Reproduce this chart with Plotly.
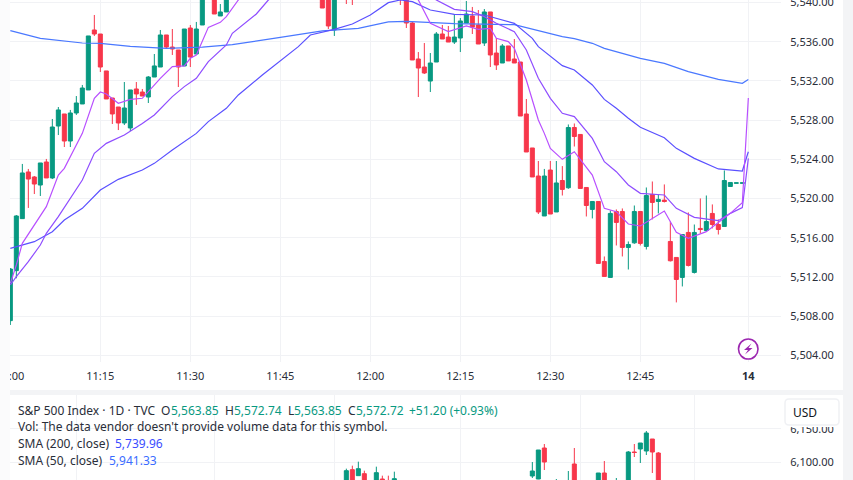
import plotly.graph_objects as go

W, H = 853, 480
GREEN = '#089981'
RED = '#F7374B'
GRID = '#f1f2f5'
PAGE_BG = '#f3f4f6'
TEXT = '#2a2e39'
BLUE_VAL = '#3a4cff'

# intraday candles, minutes after 11:00 (the ones above the top edge are guesses)
minutes = list(range(37)) + [52, 53, 54, 56, 57] + list(range(65, 123))
opens = [
    5507.54, 5512.64, 5517.95, 5522.71, 5522.20, 5521.38, 5523.73, 5522.10, 5527.40, 5528.63,
    5525.87, 5528.73, 5529.65, 5531.08, 5537.20, 5536.79, 5533.02, 5530.26, 5529.34, 5527.71,
    5527.20, 5531.18, 5530.87, 5530.36, 5532.40, 5533.42, 5536.69, 5535.46, 5535.16, 5533.53,
    5537.40, 5534.75, 5537.71, 5541.0, 5541.6, 5538.63, 5539.04,
    5541.0, 5540.6, 5537.20, 5541.5, 5541.2,
    5542.0, 5541.0, 5537.91, 5534.24, 5533.42, 5531.99, 5533.93, 5536.79, 5536.48, 5535.97,
    5536.38, 5537.91, 5538.63, 5537.71, 5535.87, 5539.04, 5534.85, 5533.83, 5535.57, 5534.24,
    5533.93, 5528.63, 5525.16, 5522.30, 5518.22, 5522.91, 5518.63, 5521.84, 5521.10, 5527.25,
    5526.54, 5521.13, 5518.89, 5519.70, 5513.58, 5511.95, 5518.68, 5518.68, 5515.01, 5515.48,
    5518.68, 5515.11, 5520.42, 5519.70, 5519.84, 5515.62, 5513.99, 5511.95, 5516.54, 5512.46,
    5516.95, 5516.74, 5518.48, 5517.35, 5517.15, 5521.23, 5521.56, 5521.56,
]
closes = [
    5512.81, 5518.22, 5522.61, 5521.99, 5521.48, 5523.63, 5522.10, 5527.30, 5529.04, 5525.87,
    5528.73, 5529.75, 5531.28, 5536.59, 5536.79, 5533.42, 5530.16, 5528.63, 5527.71, 5529.24,
    5531.08, 5530.67, 5530.46, 5532.40, 5533.53, 5536.69, 5535.46, 5535.26, 5533.42, 5537.30,
    5534.44, 5537.30, 5541.2, 5541.5, 5538.83, 5539.04, 5541.0,
    5539.44, 5537.61, 5541.2, 5540.8, 5540.7,
    5541.0, 5537.91, 5534.14, 5533.32, 5532.81, 5533.83, 5536.79, 5536.28, 5535.97, 5536.48,
    5538.12, 5538.83, 5537.50, 5535.77, 5539.04, 5534.65, 5533.63, 5535.57, 5534.04, 5533.83,
    5528.42, 5524.75, 5522.20, 5518.63, 5522.30, 5518.42, 5521.59, 5520.93, 5527.25, 5526.33,
    5521.03, 5519.29, 5519.70, 5513.38, 5512.05, 5518.48, 5517.56, 5515.01, 5515.31, 5518.68,
    5515.42, 5520.31, 5519.60, 5519.91, 5519.70, 5513.65, 5511.74, 5516.33, 5513.17, 5516.54,
    5516.84, 5517.66, 5517.35, 5516.84, 5521.84, 5521.64, 5521.60, 5521.60,
]
highs = [
    5512.91, 5518.32, 5523.53, 5523.02, 5522.30, 5523.63, 5524.04, 5528.12, 5529.34, 5528.63,
    5529.04, 5530.46, 5531.59, 5536.59, 5538.73, 5536.79, 5533.02, 5530.26, 5529.34, 5531.89,
    5531.08, 5531.89, 5531.18, 5532.50, 5534.75, 5537.20, 5536.69, 5537.30, 5535.16, 5537.30,
    5537.71, 5538.02, 5541.5, 5542.0, 5541.8, 5539.85, 5541.2,
    5541.3, 5541.0, 5541.5, 5541.8, 5541.5,
    5542.3, 5541.2, 5538.02, 5534.95, 5535.87, 5534.85, 5536.99, 5537.71, 5537.61, 5538.83,
    5538.42, 5540.16, 5539.55, 5539.24, 5539.34, 5539.04, 5536.38, 5535.77, 5535.57, 5536.28,
    5533.93, 5530.16, 5525.16, 5523.83, 5523.02, 5523.83, 5523.83, 5523.31, 5527.56, 5527.66,
    5526.54, 5521.13, 5519.70, 5519.70, 5514.09, 5518.78, 5518.89, 5518.99, 5515.62, 5519.29,
    5518.68, 5521.13, 5521.74, 5520.42, 5521.44, 5517.66, 5513.99, 5516.33, 5518.58, 5517.35,
    5520.01, 5520.31, 5519.40, 5517.87, 5522.87, 5521.64, 5521.60, 5521.60,
]
lows = [
    5507.10, 5511.86, 5517.95, 5519.04, 5520.46, 5520.26, 5522.10, 5521.99, 5526.48, 5525.26,
    5525.26, 5528.53, 5529.65, 5531.08, 5536.59, 5532.91, 5530.16, 5527.61, 5526.99, 5527.50,
    5526.89, 5529.55, 5530.46, 5529.75, 5532.40, 5533.42, 5535.26, 5534.65, 5531.38, 5533.53,
    5533.42, 5534.75, 5537.71, 5540.6, 5538.83, 5538.63, 5539.04,
    5539.44, 5537.30, 5536.59, 5539.85, 5539.75,
    5539.75, 5537.40, 5534.14, 5530.36, 5532.71, 5530.87, 5533.93, 5536.28, 5535.97, 5535.77,
    5534.95, 5537.91, 5536.79, 5535.77, 5535.57, 5533.42, 5533.12, 5533.83, 5534.04, 5533.83,
    5528.42, 5524.75, 5522.20, 5518.42, 5518.22, 5518.42, 5518.63, 5520.31, 5520.99, 5525.31,
    5521.03, 5518.17, 5517.97, 5513.38, 5512.05, 5511.95, 5515.21, 5514.09, 5512.76, 5515.38,
    5515.21, 5514.80, 5517.87, 5518.48, 5519.60, 5513.58, 5509.40, 5511.03, 5513.07, 5512.35,
    5516.44, 5516.64, 5516.95, 5516.33, 5517.15, 5521.23, 5521.56, 5521.56,
]

# moving averages, read at their bends
long_min = [0, 5, 12, 15, 20, 26, 32, 37, 45, 52, 58, 63, 66, 74, 84, 88, 92, 94, 97, 99, 105, 109, 113, 118, 122, 123]
long_val = [5537.13, 5536.35, 5535.87, 5535.84, 5535.53, 5535.33, 5535.46, 5535.70, 5536.45, 5537.10,
            5537.37, 5538.02, 5538.08, 5537.85, 5537.74, 5537.10, 5536.52, 5536.31, 5535.84, 5535.33,
            5534.31, 5533.80, 5532.95, 5532.16, 5531.76, 5532.16]
slow_min = [0, 4, 7, 9, 12, 15, 18, 22, 24, 27, 31, 33, 36, 38, 42, 45, 48, 50, 54, 57, 60, 63, 65, 67, 70,
            74, 79, 84, 87, 88, 90, 92, 94, 97, 99, 101, 103, 105, 109, 111, 114, 118, 122, 123]
slow_val = [5514.92, 5515.60, 5516.62, 5517.81, 5519.00, 5520.87, 5521.96, 5522.91, 5523.59, 5524.95,
            5526.65, 5527.85, 5529.21, 5530.57, 5532.61, 5534.07, 5535.50, 5536.69, 5537.27, 5537.81,
            5538.73, 5539.99, 5540.26, 5540.09, 5539.24, 5538.80, 5538.73, 5537.88, 5536.35, 5535.50,
            5534.48, 5533.56, 5533.12, 5531.59, 5530.12, 5529.21, 5528.19, 5527.27, 5526.21, 5525.12,
            5524.10, 5523.02, 5522.81, 5524.78]
mid_min = [0, 1, 3, 5, 6, 8, 12, 14, 16, 19, 22, 24, 27, 29, 31, 33, 36, 37, 41, 43, 50, 60, 66, 71, 74, 77,
           79, 81, 84, 86, 88, 90, 92, 94, 97, 99, 101, 103, 105, 109, 111, 114, 118, 120, 122, 123]
mid_val = [5511.18, 5512.03, 5513.56, 5515.26, 5516.45, 5518.15, 5521.89, 5524.61, 5525.63, 5526.48,
           5527.67, 5528.53, 5530.40, 5531.42, 5532.27, 5533.97, 5535.67, 5536.86, 5538.83, 5540.26,
           5543.0, 5544.0, 5542.5, 5540.26, 5539.31, 5539.07, 5538.56, 5537.88, 5537.03, 5535.16,
           5532.27, 5530.23, 5528.70, 5528.36, 5526.14, 5523.76, 5522.74, 5521.38, 5520.53, 5520.36,
           5519.00, 5518.08, 5517.74, 5518.49, 5519.07, 5524.10]
fast_min = [0, 1, 2, 5, 6, 8, 9, 12, 14, 15, 16, 18, 20, 22, 25, 27, 29, 30, 31, 33, 35, 36, 38, 45, 55, 63,
            68, 70, 73, 76, 78, 80, 81, 83, 84, 86, 88, 89, 90, 92, 94, 97, 99, 101, 103, 105, 109, 111,
            113, 116, 120, 122, 123]
fast_val = [5511.35, 5513.22, 5515.43, 5518.32, 5519.17, 5522.40, 5523.08, 5526.65, 5530.23, 5530.87,
            5530.67, 5529.72, 5530.12, 5530.23, 5532.27, 5533.46, 5533.53, 5534.31, 5534.65, 5537.47,
            5537.98, 5538.56, 5540.26, 5544.5, 5546.0, 5543.5, 5540.26, 5537.88, 5537.03, 5537.61,
            5537.27, 5537.37, 5536.35, 5536.01, 5535.33, 5532.10, 5528.02, 5526.65, 5525.12, 5524.00,
            5524.78, 5522.40, 5519.00, 5518.66, 5517.40, 5517.20, 5518.73, 5516.55, 5515.94, 5516.62,
            5518.49, 5519.58, 5530.26]

# daily candles in the lower pane, values below the page edge are guesses
day_x = [56, 57, 58, 59, 61, 62, 63, 64, 87, 88, 89, 91, 93, 94, 98, 99, 101, 103, 104, 105, 106, 107, 108]
day_open = [6060, 6088.38, 6079.29, 6082.32, 6060, 6074.24, 6072, 6060, 6078.79, 6074.24, 6121.21, 6060,
            6060, 6096.97, 6060, 6083.33, 6060, 6060, 6115.15, 6119.70, 6116.67, 6134.85, 6113.64]
day_close = [6086.87, 6060, 6089.90, 6060, 6083.84, 6060, 6060, 6074.75, 6086.36, 6118.18, 6100, 6068,
             6070, 6060, 6083.33, 6062, 6070, 6115.15, 6114.4, 6128.79, 6143.94, 6115.15, 6060]
day_high = [6089.90, 6094.44, 6100.5, 6086.87, 6092.93, 6079.29, 6079.29, 6085.35, 6100, 6118.18, 6127.27,
            6074.24, 6086.36, 6121.21, 6083.33, 6101.52, 6075.76, 6116.67, 6127.27, 6128.79, 6146.97,
            6134.85, 6115.15]
day_low = [6055, 6055, 6079.29, 6055, 6055, 6055, 6055, 6055, 6075.76, 6074, 6087.88, 6058, 6055, 6050,
           6055, 6055, 6055, 6055, 6107.58, 6098.48, 6110.61, 6083.33, 6050]

time_ticks = [0, 15, 30, 45, 60, 75, 90, 105, 123]
time_labels = ['11:00', '11:15', '11:30', '11:45', '12:00', '12:15', '12:30', '12:45', '<b>14</b>']
price_ticks = [5504, 5508, 5512, 5516, 5520, 5524, 5528, 5532, 5536, 5540]
day_grid = [11, 34, 54, 75, 95, 114]
day_price_ticks = [6100, 6150]


def px(x):
    return x / W


def py(y):
    return 1 - y / H


def rect(x0, y0, x1, y1, fill, layer='below'):
    return dict(type='rect', xref='paper', yref='paper', x0=px(x0), x1=px(x1), y0=py(y0), y1=py(y1),
                fillcolor=fill, line_width=0, layer=layer)


def rounded_box(x0, y0, x1, y1, r):
    return (f'M {px(x0 + r)} {py(y0)} L {px(x1 - r)} {py(y0)} Q {px(x1)} {py(y0)} {px(x1)} {py(y0 + r)} '
            f'L {px(x1)} {py(y1 - r)} Q {px(x1)} {py(y1)} {px(x1 - r)} {py(y1)} '
            f'L {px(x0 + r)} {py(y1)} Q {px(x0)} {py(y1)} {px(x0)} {py(y1 - r)} '
            f'L {px(x0)} {py(y0 + r)} Q {px(x0)} {py(y0)} {px(x0 + r)} {py(y0)} Z')


def candles(x, o, h, l, c, xa, ya):
    return go.Candlestick(
        x=x, open=o, high=h, low=l, close=c, xaxis=xa, yaxis=ya, showlegend=False, hoverinfo='skip',
        increasing=dict(line=dict(color=GREEN, width=1), fillcolor=GREEN),
        decreasing=dict(line=dict(color=RED, width=1), fillcolor=RED),
        whiskerwidth=0,
    )


fig = go.Figure()
fig.add_trace(candles(minutes, opens, highs, lows, closes, 'x', 'y'))
fig.add_trace(candles(day_x, day_open, day_high, day_low, day_close, 'x2', 'y2'))

for xs, ys, color in [(long_min, long_val, '#4a78ff'), (slow_min, slow_val, '#5a50ff'),
                      (mid_min, mid_val, '#8f4dff'), (fast_min, fast_val, '#b84fff')]:
    fig.add_trace(go.Scatter(x=xs, y=ys, mode='lines', line=dict(color=color, width=1.2),
                             showlegend=False, hoverinfo='skip', xaxis='x', yaxis='y'))

# page furniture
bolt = [(751.5, 343.5), (744, 350), (748, 350), (745, 354.5), (752.5, 348), (748.5, 348)]
bolt_path = 'M ' + ' L '.join(f'{px(a)} {py(b)}' for a, b in bolt) + ' Z'
shapes = [
    rect(10, 0, 843, 390, 'white'),
    rect(10, 395, 843, 480, 'white'),
    rect(0, 0, 10, 480, '#fbfbfc', layer='above'),
    rect(781, 395, 843, 427, 'white', layer='above'),
    dict(type='path', xref='paper', yref='paper', path=rounded_box(785, 399, 839, 425, 4),
         fillcolor='white', line=dict(color='#f0f1f4', width=1.5), layer='above'),
    dict(type='circle', xref='paper', yref='paper', x0=px(738.5), x1=px(758), y0=py(339), y1=py(359),
         fillcolor='white', line=dict(color='#9c27b0', width=1.6), layer='above'),
    dict(type='path', xref='paper', yref='paper', path=bolt_path, fillcolor='#9c27b0', line_width=0,
         layer='above'),
]


def note(x, y, text, color=TEXT, size=12):
    return dict(xref='paper', yref='paper', x=px(x), y=py(y), xanchor='left', yanchor='middle',
                text=text, showarrow=False, align='left', font=dict(color=color, size=size))


annotations = [
    note(16, 410, 'S&P 500 Index · 1D · TVC'),
    note(159, 410, 'O'), note(169, 410, '5,563.85', GREEN),
    note(223, 410, 'H'), note(232, 410, '5,572.74', GREEN),
    note(286, 410, 'L'), note(292, 410, '5,563.85', GREEN),
    note(346, 410, 'C'), note(354, 410, '5,572.72', GREEN),
    note(407, 410, '+51.20 (+0.93%)', GREEN),
    note(16, 426.5, "Vol: The data vendor doesn't provide volume data for this symbol."),
    note(16, 443.5, 'SMA (200, close)'), note(113, 443.5, '5,739.96', BLUE_VAL),
    note(16, 460, 'SMA (50, close)'), note(106.5, 460, '5,941.33', '#3a6cff'),
    note(791, 412, 'USD', color='#131722', size=12),
]

x_range = [(10 - 10.33) / 6, (781 - 10.33) / 6]
axis_common = dict(showline=False, zeroline=False, gridcolor=GRID, gridwidth=1, fixedrange=True,
                   ticklabeloverflow='allow', automargin=False)

fig.update_layout(
    width=W, height=H,
    margin=dict(l=0, r=0, t=0, b=0),
    paper_bgcolor=PAGE_BG,
    plot_bgcolor='rgba(0,0,0,0)',
    font=dict(family='Noto Sans', size=12, color=TEXT),
    boxgap=0.33,
    boxgroupgap=0,
    showlegend=False,
    shapes=shapes,
    annotations=annotations,
    xaxis=dict(domain=[px(10), px(781)], range=x_range, anchor='y', rangeslider=dict(visible=False),
               tickmode='array', tickvals=time_ticks, ticktext=time_labels, ticks='outside', ticklen=4,
               tickcolor='rgba(0,0,0,0)', tickfont=dict(size=11, color=TEXT), **axis_common),
    yaxis=dict(domain=[py(362), 1], range=[5503.32, 5540.26], anchor='x', side='right',
               tickmode='array', tickvals=price_ticks, tickformat=',.2f', ticks='outside', ticklen=6,
               tickcolor='rgba(0,0,0,0)', tickfont=dict(size=11, color=TEXT), **axis_common),
    xaxis2=dict(domain=[px(10), px(781)], range=x_range, anchor='y2', rangeslider=dict(visible=False),
                tickmode='array', tickvals=day_grid, showticklabels=False, **axis_common),
    yaxis2=dict(domain=[0, py(395)], range=[6072.73, 6201.5], anchor='x2', side='right',
                tickmode='array', tickvals=day_price_ticks, tickformat=',.2f', ticks='outside', ticklen=6,
                tickcolor='rgba(0,0,0,0)', tickfont=dict(size=11, color=TEXT), **axis_common),
)

# the browser's default body margin would push everything 8px in
fig.write_html("out.html", config={'displayModeBar': False},
               post_script="document.body.style.margin='0';")
